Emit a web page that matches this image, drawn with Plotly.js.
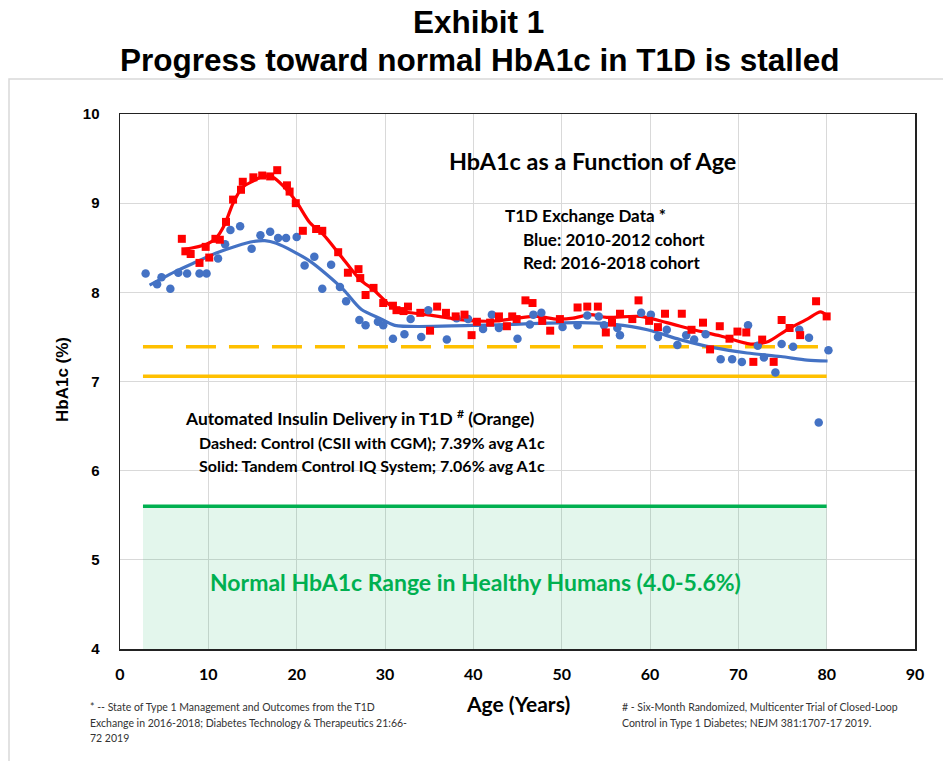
<!DOCTYPE html>
<html>
<head>
<meta charset="utf-8">
<script src="https://cdn.plot.ly/plotly-3.0.1.min.js"></script>
<style>html,body{margin:0;padding:0;background:#fff;}#chart{width:943px;height:761px;}</style>
</head>
<body>
<div id="chart"></div>
<script>
// ---------------- DATA ----------------
const blueAges = [2.9,4.2,4.7,5.7,6.6,7.6,9.0,9.8,11.1,11.9,12.5,13.6,14.9,15.9,17.0,17.9,18.8,20.0,20.9,22.0,22.9,23.9,24.9,25.6,27.1,27.8,29.2,29.8,30.9,32.2,32.9,34.1,34.9,37.0,38.1,39.4,41.1,42.1,42.9,45.0,46.4,46.8,47.7,50.1,51.8,52.9,54.2,54.8,56.3,56.6,59.0,60.1,60.9,61.9,63.1,64.1,65.0,66.3,68.0,69.3,70.4,71.1,72.2,72.9,74.2,74.9,76.2,76.9,78.0,79.1,80.2];
const blueA1c  = [8.21,8.09,8.17,8.04,8.22,8.21,8.21,8.21,8.38,8.54,8.70,8.74,8.49,8.64,8.68,8.61,8.61,8.62,8.30,8.40,8.04,8.31,8.06,7.90,7.69,7.63,7.67,7.63,7.48,7.53,7.70,7.50,7.80,7.47,7.71,7.70,7.59,7.75,7.60,7.48,7.64,7.75,7.77,7.61,7.63,7.74,7.73,7.63,7.60,7.52,7.77,7.75,7.50,7.58,7.41,7.52,7.47,7.53,7.25,7.25,7.22,7.63,7.40,7.27,7.10,7.42,7.39,7.58,7.49,6.54,7.35];

const redAges = [7.0,7.4,8.0,9.0,9.7,10.1,10.8,11.3,12.0,12.8,13.7,13.9,15.1,16.1,17.0,17.8,18.9,19.2,19.9,20.7,22.2,22.9,24.7,25.8,27.0,27.2,27.8,28.7,29.8,30.9,31.3,32.1,32.6,34.0,35.1,35.9,36.9,38.0,39.0,39.8,40.4,41.9,42.9,43.8,44.4,44.9,45.9,46.7,47.8,48.7,49.8,51.8,52.9,54.1,55.0,55.7,56.6,58.0,58.7,59.9,60.9,61.7,63.6,64.7,66.0,66.8,67.9,69.0,69.9,70.9,71.7,72.7,74.0,74.9,75.8,77.0,78.8,80.0];
const redA1c  = [8.60,8.46,8.43,8.33,8.51,8.39,8.60,8.59,8.79,9.04,9.15,9.24,9.29,9.31,9.30,9.37,9.20,9.13,9.00,8.69,8.71,8.69,8.45,8.22,8.26,8.16,7.97,8.05,7.88,7.85,7.80,7.79,7.84,7.77,7.57,7.84,7.77,7.73,7.75,7.52,7.67,7.66,7.73,7.62,7.73,7.70,7.91,7.88,7.68,7.57,7.70,7.83,7.84,7.84,7.55,7.66,7.76,7.70,7.91,7.68,7.61,7.76,7.76,7.58,7.66,7.36,7.62,7.48,7.56,7.55,7.22,7.47,7.22,7.69,7.60,7.52,7.90,7.73];

const blueFitAges = [3.35,6.4,8.6,10.9,13.2,15.1,16.4,17.7,19.6,21.5,23.4,25.3,27.3,29.6,31.1,40.0,52.1,55.9,59.7,63.4,67.2,71.0,74.8,77.8,80.1];
const blueFitA1c  = [8.08,8.24,8.34,8.44,8.52,8.57,8.58,8.55,8.46,8.35,8.20,8.03,7.81,7.70,7.63,7.63,7.66,7.64,7.58,7.47,7.38,7.32,7.28,7.24,7.23];

const redFitAges = [7.2,9.8,10.9,11.85,12.8,13.9,15.1,16.2,17.3,18.5,20.0,21.5,23.0,24.9,27.2,28.7,30.9,32.4,34.7,37.4,40.0,42.7,44.9,47.2,49.5,51.3,53.2,55.1,58.9,61.9,64.9,68.0,71.4,73.4,75.5,77.8,79.3,80.0];
const redFitA1c  = [8.48,8.54,8.61,8.76,9.00,9.18,9.25,9.30,9.29,9.19,9.01,8.78,8.65,8.42,8.14,8.03,7.83,7.78,7.75,7.71,7.68,7.68,7.71,7.73,7.70,7.71,7.75,7.72,7.73,7.66,7.58,7.51,7.42,7.45,7.58,7.70,7.78,7.74];

const refAges = [2.6, 80];            // extent of reference lines
const aidControlA1c = 7.39;           // dashed orange
const aidTandemA1c  = 7.06;           // solid orange
const normalLow  = 4.0;
const normalHigh = 5.6;

const xTickVals = [0,10,20,30,40,50,60,70,80,90];
const yTickVals = [4,5,6,7,8,9,10];

// ---------------- LAYOUT HELPERS ----------------
const L = 120, R = 915, T = 114, B = 649, W = 943, H = 761;
const px = x => (x - L) / (R - L);
const py = y => (B - y) / (B - T);

const calibri = 'Lato, "Open Sans", sans-serif';
const arial = '"Liberation Sans", Arial, sans-serif';

const traces = [
  { x: [refAges[0], refAges[1], refAges[1], refAges[0]], y: [normalLow, normalLow, normalHigh, normalHigh],
    fill: 'toself', fillcolor: 'rgba(0,176,80,0.11)', mode: 'none', type: 'scatter', hoverinfo: 'skip' },
  { x: refAges, y: [normalHigh, normalHigh], mode: 'lines', line: { color: '#00b050', width: 3.5 } },
  { x: refAges, y: [aidTandemA1c, aidTandemA1c], mode: 'lines', line: { color: '#ffc000', width: 3.5 } },
  { x: refAges, y: [aidControlA1c, aidControlA1c], mode: 'lines', line: { color: '#ffc000', width: 3.5, dash: '30px,13px' } },
  { x: blueFitAges, y: blueFitA1c, mode: 'lines', line: { color: '#4472c4', width: 3.2, shape: 'spline', smoothing: 0.8 } },
  { x: redFitAges, y: redFitA1c, mode: 'lines', line: { color: '#ff0000', width: 3.2, shape: 'spline', smoothing: 0.8 } },
  { x: blueAges, y: blueA1c, mode: 'markers', marker: { symbol: 'circle', size: 8.5, color: '#4472c4' } },
  { x: redAges, y: redA1c, mode: 'markers', marker: { symbol: 'square', size: 8, color: '#ff0000' } }
];

function boxShape(x0, y0, x1, y1) {
  return { type: 'rect', xref: 'paper', yref: 'paper', x0: px(x0), x1: px(x1), y0: py(y1), y1: py(y0),
           fillcolor: '#ffffff', line: { width: 0 }, layer: 'between' };
}

function ann(text, x, y, opts) {
  return Object.assign({ text: text, xref: 'paper', yref: 'paper', x: px(x), y: py(y), showarrow: false,
    xanchor: 'center', yanchor: 'middle' }, opts || {});
}

const boldBlack = (size, fam) => ({ family: fam || calibri, size: size, color: '#000000', weight: 'bold' });
const noteFont = { family: calibri, size: 10.5, color: '#333333' };

const layout = {
  width: W, height: H,
  margin: { l: L, r: W - R, t: T, b: H - B, pad: 0 },
  paper_bgcolor: '#ffffff', plot_bgcolor: '#ffffff',
  showlegend: false,
  xaxis: {
    range: [0, 90], tickvals: xTickVals, ticks: '', showgrid: true, gridcolor: '#d9d9d9', gridwidth: 1,
    zeroline: false, showline: true, mirror: true, linecolor: '#222222', linewidth: 1.5,
    tickfont: boldBlack(16, calibri), ticklabelstandoff: 10
  },
  yaxis: {
    range: [4, 10], tickvals: yTickVals, ticks: '', showgrid: true, gridcolor: '#d9d9d9', gridwidth: 1,
    zeroline: false, showline: true, mirror: true, linecolor: '#222222', linewidth: 1.5,
    tickfont: boldBlack(15, arial), ticklabelstandoff: 16
  },
  shapes: [
    { type: 'rect', xref: 'paper', yref: 'paper', x0: px(9), x1: px(960), y0: py(790), y1: py(79),
      fillcolor: 'rgba(0,0,0,0)', line: { color: '#d9d9d9', width: 1.5 }, layer: 'below' },
    boxShape(440, 145, 745, 180),
    boxShape(493, 202, 727, 276),
    boxShape(173, 402, 565, 482)
  ],
  annotations: [
    ann('Exhibit 1', 478, 22, { font: boldBlack(31.5, arial) }),
    ann('Progress toward normal HbA1c in T1D is stalled', 479, 60, { font: boldBlack(31.5, arial) }),
    ann('HbA1c (%)', 62, 380, { textangle: -90, font: boldBlack(17, arial) }),
    ann('Age (Years)', 518, 703, { font: boldBlack(21, calibri) }),
    ann('HbA1c as a Function of Age', 592, 161, { font: boldBlack(23.4) }),
    ann('T1D Exchange Data *', 503, 215, { xanchor: 'left', font: boldBlack(17) }),
    ann('Blue: 2010-2012 cohort', 521, 239, { xanchor: 'left', font: boldBlack(17) }),
    ann('Red: 2016-2018 cohort', 521, 262, { xanchor: 'left', font: boldBlack(17) }),
    ann('Automated Insulin Delivery in T1D <sup>#</sup> (Orange)', 183, 418, { xanchor: 'left', font: boldBlack(17.4) }),
    ann('Dashed: Control (CSII with CGM); 7.39% avg A1c', 197, 442, { xanchor: 'left', font: boldBlack(16) }),
    ann('Solid: Tandem Control IQ System; 7.06% avg A1c', 197, 465, { xanchor: 'left', font: boldBlack(16) }),
    ann('Normal HbA1c Range in Healthy Humans (4.0-5.6%)', 475, 582,
        { font: { family: calibri, size: 23, color: '#00b050', weight: 'bold' } }),
    ann('* -- State of Type 1 Management and Outcomes from the T1D', 88, 707, { xanchor: 'left', font: noteFont }),
    ann('Exchange in 2016-2018; Diabetes Technology &amp; Therapeutics 21:66-', 88, 722.5, { xanchor: 'left', font: noteFont }),
    ann('72 2019', 88, 738, { xanchor: 'left', font: noteFont }),
    ann('# - Six-Month Randomized, Multicenter Trial of Closed-Loop', 620, 707, { xanchor: 'left', font: noteFont }),
    ann('Control in Type 1 Diabetes; NEJM 381:1707-17 2019.', 620, 722.5, { xanchor: 'left', font: noteFont })
  ]
};

Plotly.newPlot('chart', traces, layout, { displayModeBar: false, staticPlot: true });
</script>
</body>
</html>
